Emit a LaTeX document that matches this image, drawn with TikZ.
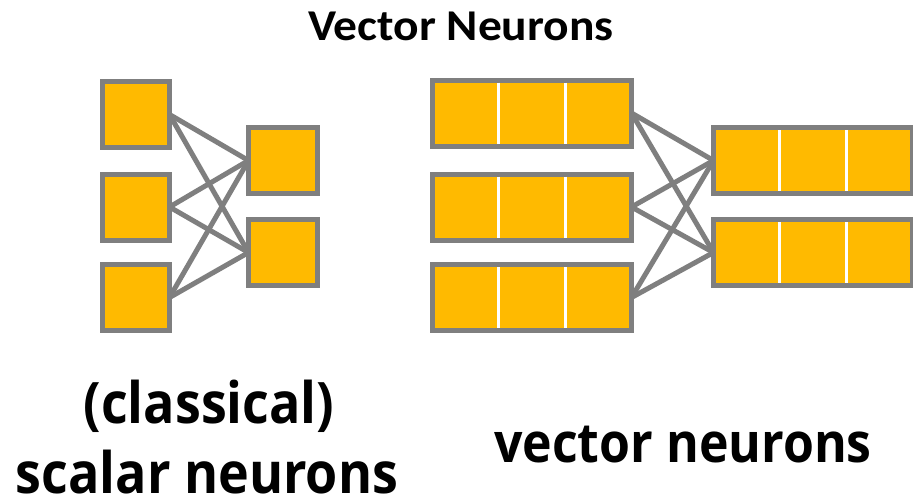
\documentclass[tikz,border=0pt]{standalone}
\usepackage{fontspec}
\setmainfont{Open Sans}
\newfontfamily\titlefont{Carlito}
\usetikzlibrary{calc}
\definecolor{cellfill}{HTML}{FFBA00}
\definecolor{edgegray}{HTML}{7F7F7F}
\tikzset{
  neuron/.style={draw=edgegray, fill=cellfill, line width=5pt, inner sep=0pt, outer sep=0pt},
  sq/.style={neuron, minimum width=67pt, minimum height=66pt},
  sqout/.style={neuron, minimum width=69pt, minimum height=66pt},
  vec/.style={neuron, minimum width=199pt, minimum height=66pt},
  link/.style={draw=edgegray, line width=5pt},
  divider/.style={draw=white, line width=3pt},
  caption/.style={anchor=base, inner sep=0pt}
}
\newcommand{\splitcells}[1]{%
  \foreach \f in {1/3,2/3}{
    \draw[divider] ($(#1.north west)!\f!(#1.north east)+(0,2.5)$) -- ($(#1.south west)!\f!(#1.south east)+(0,-2.5)$);
  }}
\newcommand{\captext}[2]{\scalebox{1}[1.1]{\fontsize{#1}{#1}\selectfont\bfseries #2}}
\begin{document}
\begin{tikzpicture}[x=1pt,y=-1pt]
\useasboundingbox (0,0) rectangle (913,501);

% title
\node[anchor=base, inner sep=0pt] (title) at (461,40)
  {\scalebox{1.08}[1]{\titlefont\fontsize{44}{50}\selectfont\bfseries Vector Neurons}};

% scalar neurons
\node[sq] (a1) at (136,114.5) {};
\node[sq] (a2) at (136,207) {};
\node[sq] (a3) at (136,297.5) {};
\node[sqout] (b1) at (283,160.5) {};
\node[sqout] (b2) at (283,252.5) {};
\foreach \i in {1,2,3}{
  \foreach \j in {1,2}{
    \draw[link] (a\i.east) -- (b\j.west);
  }}

% vector neurons
\node[vec] (v1) at (532,113) {};
\node[vec] (v2) at (532,207) {};
\node[vec] (v3) at (532,297.5) {};
\node[vec] (w1) at (813,160.5) {};
\node[vec] (w2) at (813,252.5) {};
\foreach \n in {v1,v2,v3,w1,w2}{\splitcells{\n}}
\foreach \i in {1,2,3}{
  \foreach \j in {1,2}{
    \draw[link] (v\i.east) -- (w\j.west);
  }}

% captions
\node[caption] (cl) at (209,423) {\captext{52}{(classical)}};
\node[caption, text depth=0pt] (sc) at (207,493) {\captext{52}{scalar neurons}};
\node[caption] (vn) at (683,462) {\captext{50}{vector neurons}};
\end{tikzpicture}
\end{document}
